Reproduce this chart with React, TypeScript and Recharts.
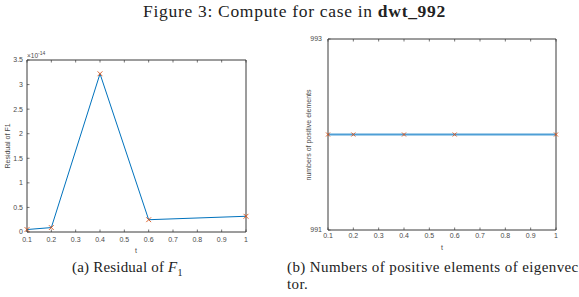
import React from 'react';
import { LineChart, Line, XAxis, YAxis } from 'recharts';

// sample points in t
const tValues = [0.1, 0.2, 0.4, 0.6, 1];
// residual of F1, in units of 1e-14
const residualF1 = [0.05, 0.09, 3.22, 0.25, 0.32];
// number of positive entries of the eigenvector
const positiveCounts = [992, 992, 992, 992, 992];

const tTicks = [0.1, 0.2, 0.3, 0.4, 0.5, 0.6, 0.7, 0.8, 0.9, 1];
const residualTicks = [0, 0.5, 1, 1.5, 2, 2.5, 3, 3.5];
const countTicks = [991, 993];

const residualData = tValues.map((t, i) => ({ t, r: residualF1[i] }));
const countData = tValues.map((t, i) => ({ t, n: positiveCounts[i] }));

const M = 6; // tickMargin used on every axis
const TL = 2.5; // inward tick length
const AXIS = '#3a3a3a';
const TXT = '#4a4a4a';
const SANS = '"Liberation Sans", Arial, sans-serif';
const SERIF = '"Liberation Serif", "DejaVu Serif", serif';
const BLUE = '#0072BD';
const ORANGE = '#D95319';

const fmt = (v: number) => String(v);

const BottomTick = (props: any) => {
  const { x, y, payload, dy = 9 } = props;
  const y0 = y - M;
  return (
    <g>
      <line x1={x} x2={x} y1={y0} y2={y0 - TL} stroke={AXIS} strokeWidth={0.7} />
      <text x={x} y={y0 + dy} textAnchor="middle" fontSize={7} fill={TXT} fontFamily={SANS}>
        {fmt(payload.value)}
      </text>
    </g>
  );
};

const TopTick = (props: any) => {
  const { x, y } = props;
  const y0 = y + M;
  return <line x1={x} x2={x} y1={y0} y2={y0 + TL} stroke={AXIS} strokeWidth={0.7} />;
};

const LeftTick = (props: any) => {
  const { x, y, payload, gap = 4 } = props;
  const x0 = x + M;
  return (
    <g>
      <line x1={x0} x2={x0 + TL} y1={y} y2={y} stroke={AXIS} strokeWidth={0.7} />
      <text x={x0 - gap} y={y} dy="0.35em" textAnchor="end" fontSize={7} fill={TXT} fontFamily={SANS}>
        {fmt(payload.value)}
      </text>
    </g>
  );
};

const RightTick = (props: any) => {
  const { x, y } = props;
  const x0 = x - M;
  return <line x1={x0} x2={x0 - TL} y1={y} y2={y} stroke={AXIS} strokeWidth={0.7} />;
};

const Cross = (props: any) => {
  const { cx, cy, s = 2.5 } = props;
  if (cx == null || cy == null) return null;
  return (
    <path
      d={`M${cx - s},${cy - s}L${cx + s},${cy + s}M${cx - s},${cy + s}L${cx + s},${cy - s}`}
      stroke={ORANGE}
      strokeWidth={0.9}
      fill="none"
    />
  );
};

// each axis takes 1px of room, so the margins are one short of the plot box
const ResidualChart = () => (
  <LineChart width={270} height={260} data={residualData} margin={{ top: 59, left: 26, right: 23, bottom: 27 }}>
    <XAxis dataKey="t" type="number" domain={[0.1, 1]} ticks={tTicks} interval={0} height={1}
      tickSize={0} tickMargin={M} stroke={AXIS} tick={<BottomTick dy={10} />} />
    <XAxis xAxisId="top" orientation="top" dataKey="t" type="number" domain={[0.1, 1]} ticks={tTicks}
      interval={0} height={1} tickSize={0} tickMargin={M} stroke={AXIS} tick={<TopTick />} />
    <YAxis type="number" domain={[0, 3.5]} ticks={residualTicks} interval={0} width={1}
      tickSize={0} tickMargin={M} stroke={AXIS} tick={<LeftTick gap={4} />} />
    <YAxis yAxisId="right" orientation="right" type="number" domain={[0, 3.5]} ticks={residualTicks}
      interval={0} width={1} tickSize={0} tickMargin={M} stroke={AXIS} tick={<RightTick />} />
    <Line dataKey="r" stroke={BLUE} strokeWidth={1} dot={<Cross s={2.4} />} activeDot={false}
      isAnimationActive={false} />
  </LineChart>
);

const CountChart = () => (
  <LineChart width={289} height={260} data={countData} margin={{ top: 38, left: 37, right: 22, bottom: 29 }}>
    <XAxis dataKey="t" type="number" domain={[0.1, 1]} ticks={tTicks} interval={0} height={1}
      tickSize={0} tickMargin={M} stroke={AXIS} tick={<BottomTick dy={8} />} />
    <XAxis xAxisId="top" orientation="top" dataKey="t" type="number" domain={[0.1, 1]} ticks={tTicks}
      interval={0} height={1} tickSize={0} tickMargin={M} stroke={AXIS} tick={<TopTick />} />
    <YAxis type="number" domain={[991, 993]} ticks={countTicks} interval={0} width={1}
      tickSize={0} tickMargin={M} stroke={AXIS} tick={<LeftTick gap={6} />} />
    <YAxis yAxisId="right" orientation="right" type="number" domain={[991, 993]} ticks={countTicks}
      interval={0} width={1} tickSize={0} tickMargin={M} stroke={AXIS} tick={<RightTick />} />
    <Line dataKey="n" stroke="#4f9fd6" strokeWidth={2.2} dot={<Cross s={2} />} activeDot={false}
      isAnimationActive={false} />
  </LineChart>
);

export default function App() {
  return (
    <div style={{ position: 'absolute', left: 0, top: 0, width: 579, height: 297, background: '#fff', overflow: 'hidden' }}>
      <div style={{ position: 'absolute', left: 143, top: 1, fontFamily: SERIF, fontSize: 17.5, letterSpacing: 0.7, color: '#222', whiteSpace: 'nowrap' }}>
        Figure 3: Compute for case in <b>dwt_992</b>
      </div>

      <div style={{ position: 'absolute', left: 0, top: 0 }}>
        <ResidualChart />
      </div>
      <div style={{ position: 'absolute', left: 290, top: 0 }}>
        <CountChart />
      </div>

      {/* axis titles and exponent */}
      <svg width={579} height={297} style={{ position: 'absolute', left: 0, top: 0, pointerEvents: 'none' }}>
        <text x={27} y={58} fontSize={6.5} fill={TXT} fontFamily={SANS}>
          ×10<tspan dy={-3} fontSize={5}>-14</tspan>
        </text>
        <text transform="translate(10,146) rotate(-90)" textAnchor="middle" fontSize={7} fill={TXT} fontFamily={SANS}>
          Residual of F1
        </text>
        <text x={136} y={253} textAnchor="middle" fontSize={7} fill={TXT} fontFamily={SANS}>t</text>
        <text transform="translate(311,135) rotate(-90)" textAnchor="middle" fontSize={7} fill={TXT} fontFamily={SANS}>
          numbers of positive elements
        </text>
        <text x={442} y={250} textAnchor="middle" fontSize={7} fill={TXT} fontFamily={SANS}>t</text>
      </svg>

      <div style={{ position: 'absolute', left: 72, top: 259, fontFamily: SERIF, fontSize: 15, letterSpacing: 0.2, color: '#222', whiteSpace: 'nowrap' }}>
        (a) Residual of <i>F</i><sub style={{ fontSize: 10 }}>1</sub>
      </div>
      <div style={{ position: 'absolute', left: 287, top: 259, fontFamily: SERIF, fontSize: 15, letterSpacing: 0.4, color: '#222', whiteSpace: 'nowrap', lineHeight: '17px' }}>
        (b) Numbers of positive elements of eigenvec-<br />tor.
      </div>
    </div>
  );
}
